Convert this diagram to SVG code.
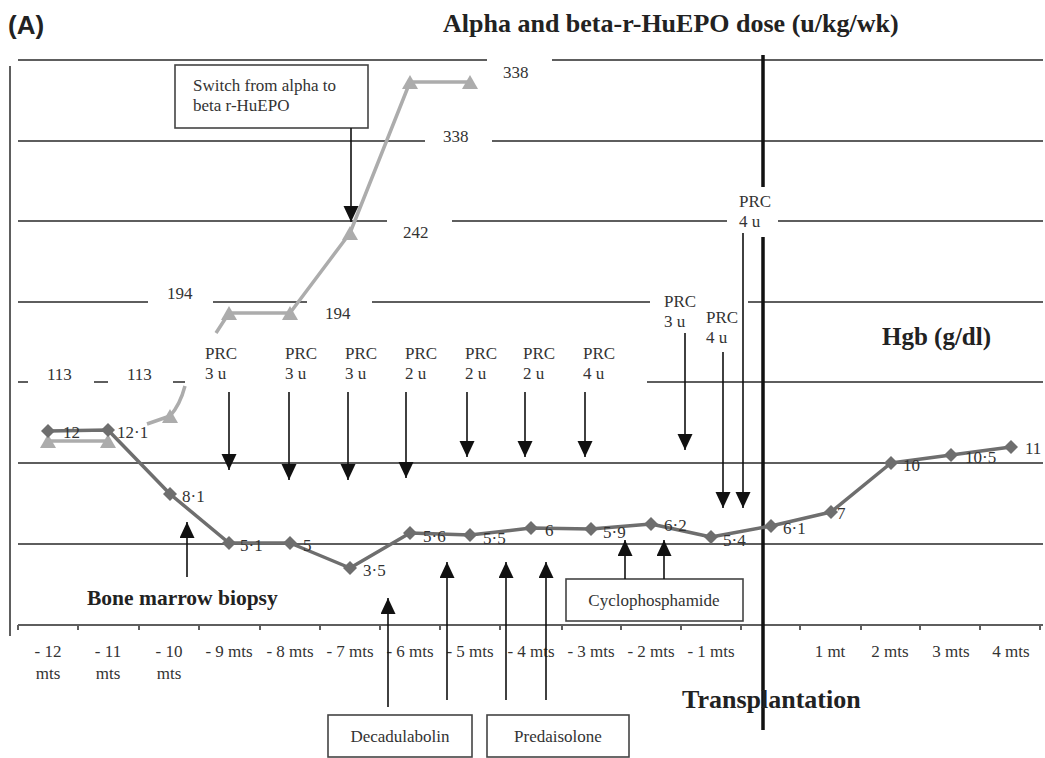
<svg xmlns="http://www.w3.org/2000/svg" width="1045" height="758" viewBox="0 0 1045 758">
<style>
.grid{stroke:#5e5e5e;stroke-width:2;fill:none}
.t{font-family:"Liberation Serif",serif;font-size:17px;fill:#333}
.tc{font-family:"Liberation Serif",serif;font-size:17px;fill:#333;text-anchor:middle}
.b{font-family:"Liberation Serif",serif;font-weight:bold;fill:#222}
.box{fill:#fff;stroke:#444;stroke-width:1.6}
.arr{stroke:#111;stroke-width:1.6;fill:none;marker-end:url(#ah)}
.hgb{stroke:#6e6e6e;stroke-width:3.5;fill:none;stroke-linejoin:round}
.epo{stroke:#acacac;stroke-width:3.5;fill:none;stroke-linejoin:round}
</style>
<defs>
<marker id="ah" markerUnits="userSpaceOnUse" markerWidth="16" markerHeight="16" refX="16" refY="7.5" orient="auto">
<path d="M0,0 L16,7.5 L0,15 z" fill="#111"/>
</marker>
<path id="dia" d="M0,-7 L7,0 L0,7 L-7,0 z" fill="#6e6e6e"/>
<path id="tri" d="M0,-7 L8,7 L-8,7 z" fill="#acacac"/>
</defs>
<rect width="1045" height="758" fill="#fff"/>

<g id="axes">
<line class="grid" x1="10" y1="66" x2="10" y2="636" stroke-width="2.5"/>
<path class="grid" d="M18,60 H487 M552,60 H1043"/>
<path class="grid" d="M18,141 H425 M492,141 H1043"/>
<path class="grid" d="M18,221 H387 M452,221 H727 M778,221 H1043"/>
<path class="grid" d="M18,302 H148 M213,302 H307 M372,302 H650 M748,302 H1043"/>
<path class="grid" d="M18,382 H28 M94,382 H108 M173,382 H185 M647,382 H1043"/>
<path class="grid" d="M18,463 H1043"/>
<path class="grid" d="M18,544 H1043"/>
<path class="grid" d="M18,625 H1043 M18,625 v5 M78,625 v5 M139,625 v5 M199,625 v5 M260,625 v5 M320,625 v5 M380,625 v5 M440,625 v5 M500,625 v5 M562,625 v5 M621,625 v5 M681,625 v5 M741,625 v5 M800,625 v5 M861,625 v5 M920,625 v5 M980,625 v5 M1040,625 v5"/>
<path d="M763,55 V187 M763,237 V730" stroke="#111" stroke-width="3.5" fill="none"/>
</g>

<g id="x-labels">
<text class="tc" x="48" y="657">- 12</text><text class="tc" x="48" y="679" font-size="14">mts</text>
<text class="tc" x="108" y="657">- 11</text><text class="tc" x="108" y="679" font-size="14">mts</text>
<text class="tc" x="169" y="657">- 10</text><text class="tc" x="169" y="679" font-size="14">mts</text>
<text class="tc" x="229" y="657">- 9 mts</text>
<text class="tc" x="290" y="657">- 8 mts</text>
<text class="tc" x="350" y="657">- 7 mts</text>
<text class="tc" x="410" y="657">- 6 mts</text>
<text class="tc" x="470" y="657">- 5 mts</text>
<text class="tc" x="531" y="657">- 4 mts</text>
<text class="tc" x="591" y="657">- 3 mts</text>
<text class="tc" x="651" y="657">- 2 mts</text>
<text class="tc" x="711" y="657">- 1 mts</text>
<text class="tc" x="830" y="657">1 mt</text>
<text class="tc" x="890" y="657">2 mts</text>
<text class="tc" x="951" y="657">3 mts</text>
<text class="tc" x="1011" y="657">4 mts</text>
</g>

<g id="titles">
<text x="8" y="34" font-family="'Liberation Sans',Arial,sans-serif" font-weight="bold" font-size="26" fill="#222">(A)</text>
<text class="b" x="443" y="32" font-size="26">Alpha and beta-r-HuEPO dose (u/kg/wk)</text>
<text class="b" x="882" y="345" font-size="25">Hgb (g/dl)</text>
<text class="b" x="87" y="605" font-size="21.5">Bone marrow biopsy</text>
<text class="b" x="682" y="708" font-size="26">Transplantation</text>
</g>

<g id="epo-series">
<path class="epo" d="M48,441 H108 M147,424 L170,416 Q180,405 185,386 M216,333 L229,313 H290 L350,233 L410,82 H470"/>
<use href="#tri" x="48" y="441"/><use href="#tri" x="108" y="441"/><use href="#tri" x="170" y="416"/>
<use href="#tri" x="229" y="313"/><use href="#tri" x="290" y="313"/><use href="#tri" x="350" y="233"/>
<use href="#tri" x="410" y="82"/><use href="#tri" x="470" y="82"/>
<text class="t" x="503" y="78">338</text>
<text class="t" x="443" y="142">338</text>
<text class="t" x="403" y="238">242</text>
<text class="t" x="167" y="299">194</text>
<text class="t" x="325" y="319">194</text>
<text class="t" x="47" y="380">113</text>
<text class="t" x="127" y="380">113</text>
</g>

<g id="hgb-series">
<polyline class="hgb" points="48,431 108,430 170,494 229,543 290,543 350,568 410,533 470,535 531,528 591,529 651,524 711,537 771,526 831,512 891,463 951,455 1011,447"/>
<use href="#dia" x="48" y="431"/><use href="#dia" x="108" y="430"/><use href="#dia" x="170" y="494"/>
<use href="#dia" x="229" y="543"/><use href="#dia" x="290" y="543"/><use href="#dia" x="350" y="568"/>
<use href="#dia" x="410" y="533"/><use href="#dia" x="470" y="535"/><use href="#dia" x="531" y="528"/>
<use href="#dia" x="591" y="529"/><use href="#dia" x="651" y="524"/><use href="#dia" x="711" y="537"/>
<use href="#dia" x="771" y="526"/><use href="#dia" x="831" y="512"/><use href="#dia" x="891" y="463"/>
<use href="#dia" x="951" y="455"/><use href="#dia" x="1011" y="447"/>
<text class="t" x="63" y="438">12</text>
<text class="t" x="117" y="438">12·1</text>
<text class="t" x="182" y="502">8·1</text>
<text class="t" x="240" y="551">5·1</text>
<text class="t" x="303" y="551">5</text>
<text class="t" x="363" y="576">3·5</text>
<text class="t" x="423" y="542">5·6</text>
<text class="t" x="483" y="544">5·5</text>
<text class="t" x="545" y="536">6</text>
<text class="t" x="603" y="538">5·9</text>
<text class="t" x="664" y="531">6·2</text>
<text class="t" x="723" y="546">5·4</text>
<text class="t" x="783" y="534">6·1</text>
<text class="t" x="837" y="519">7</text>
<text class="t" x="903" y="471">10</text>
<text class="t" x="965" y="463">10·5</text>
<text class="t" x="1025" y="454">11</text>
</g>

<g id="switch-box">
<rect class="box" x="175" y="65" width="193" height="63"/>
<text class="t" x="193" y="91">Switch from alpha to</text>
<text class="t" x="193" y="111">beta r-HuEPO</text>
</g>
<g id="prc-labels">
<text class="t" x="205" y="359">PRC</text><text class="t" x="205" y="379">3 u</text>
<text class="t" x="285" y="359">PRC</text><text class="t" x="285" y="379">3 u</text>
<text class="t" x="345" y="359">PRC</text><text class="t" x="345" y="379">3 u</text>
<text class="t" x="405" y="359">PRC</text><text class="t" x="405" y="379">2 u</text>
<text class="t" x="465" y="359">PRC</text><text class="t" x="465" y="379">2 u</text>
<text class="t" x="523" y="359">PRC</text><text class="t" x="523" y="379">2 u</text>
<text class="t" x="583" y="359">PRC</text><text class="t" x="583" y="379">4 u</text>
<text class="t" x="664" y="307">PRC</text><text class="t" x="664" y="327">3 u</text>
<text class="t" x="706" y="323">PRC</text><text class="t" x="706" y="343">4 u</text>
<text class="t" x="739" y="207">PRC</text><text class="t" x="739" y="227">4 u</text>
</g>
<g id="cyclophosphamide-box">
<rect class="box" x="566" y="579" width="177" height="42"/>
<text class="tc" x="654" y="606">Cyclophosphamide</text>
</g>
<g id="decadulabolin-box">
<rect class="box" x="328" y="715" width="144" height="42"/>
<text class="tc" x="400" y="742">Decadulabolin</text>
</g>
<g id="predaisolone-box">
<rect class="box" x="487" y="715" width="142" height="42"/>
<text class="tc" x="558" y="742">Predaisolone</text>
</g>

<g id="connectors">
<line class="arr" x1="351" y1="128" x2="351" y2="222"/>
<line class="arr" x1="229" y1="392" x2="229" y2="470"/>
<line class="arr" x1="289" y1="392" x2="289" y2="480"/>
<line class="arr" x1="348" y1="392" x2="348" y2="480"/>
<line class="arr" x1="406" y1="392" x2="406" y2="478"/>
<line class="arr" x1="467" y1="392" x2="467" y2="457"/>
<line class="arr" x1="525" y1="392" x2="525" y2="457"/>
<line class="arr" x1="585" y1="392" x2="585" y2="457"/>
<line class="arr" x1="685" y1="333" x2="685" y2="450"/>
<line class="arr" x1="723" y1="352" x2="723" y2="508"/>
<line class="arr" x1="743" y1="233" x2="743" y2="508"/>
<line class="arr" x1="187" y1="577" x2="187" y2="522"/>
<line class="arr" x1="388" y1="707" x2="388" y2="598"/>
<line class="arr" x1="447" y1="700" x2="447" y2="562"/>
<line class="arr" x1="506" y1="700" x2="506" y2="562"/>
<line class="arr" x1="546" y1="700" x2="546" y2="562"/>
<line class="arr" x1="625" y1="579" x2="625" y2="540"/>
<line class="arr" x1="664" y1="579" x2="664" y2="540"/>
</g>
</svg>
